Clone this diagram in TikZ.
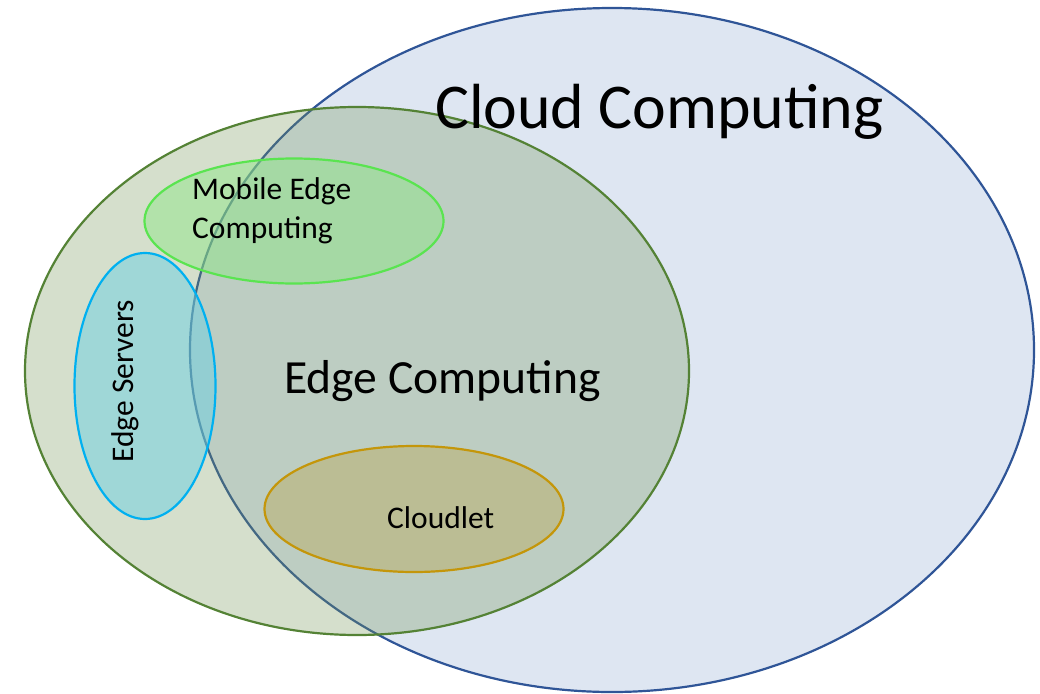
\documentclass[tikz,border=0pt]{standalone}
\usepackage{fontspec}
\setmainfont{Carlito}
\usetikzlibrary{shapes.geometric}

\definecolor{cloudfill}{RGB}{222,230,242}
\definecolor{cloudline}{RGB}{47,85,151}
\definecolor{edgefill}{RGB}{115,148,85}
\definecolor{edgeline}{RGB}{84,130,53}
\definecolor{mecfill}{RGB}{143,229,136}
\definecolor{mecline}{RGB}{90,228,80}
\definecolor{srvfill}{RGB}{107,207,226}
\definecolor{srvline}{RGB}{0,176,240}
\definecolor{cltfill}{RGB}{186,175,104}
\definecolor{cltline}{RGB}{196,150,10}

\tikzset{
  region/.style={ellipse, inner sep=0pt, line width=2.2pt},
  label/.style={inner sep=0pt, text=black},
}

\begin{document}
\begin{tikzpicture}[x=1pt, y=-1pt]
  \useasboundingbox (0,0) rectangle (1040,693);

  % outer sets
  \node[region, draw=cloudline, fill=cloudfill,
        minimum width=844pt, minimum height=684pt] (cloud) at (612,350) {};
  \node[region, draw=edgeline, fill=edgefill, fill opacity=0.3,
        minimum width=664pt, minimum height=528pt] (edge) at (357,371) {};

  % inner sets
  \node[region, draw=mecline, fill=mecfill, fill opacity=0.5,
        minimum width=299pt, minimum height=125pt] (mec) at (294,221) {};
  \node[region, draw=srvline, fill=srvfill, fill opacity=0.5,
        minimum width=141pt, minimum height=266pt] (srv) at (145,386) {};
  \node[region, draw=cltline, fill=cltfill, fill opacity=0.5,
        minimum width=299pt, minimum height=126pt] (clt) at (414,509) {};

  % labels
  \node[label, anchor=base west, font=\fontsize{63.8}{77}\selectfont]
    (cloudtxt) at (435,128) {Cloud Computing};
  \node[label, anchor=base west, font=\fontsize{47.6}{58}\selectfont]
    (edgetxt) at (284,393) {Edge Computing};
  \node[label, anchor=base west, font=\fontsize{31.5}{39}\selectfont]
    (mectxt1) at (192,199) {Mobile Edge};
  \node[label, anchor=base west, font=\fontsize{31.5}{39}\selectfont]
    (mectxt2) at (192,238) {Computing};
  \node[label, anchor=base west, font=\fontsize{31.5}{39}\selectfont]
    (clttxt) at (387,528) {Cloudlet};
  \node[label, anchor=base west, rotate=90, font=\fontsize{31.5}{39}\selectfont]
    (srvtxt) at (133,463) {Edge Servers};
\end{tikzpicture}
\end{document}
